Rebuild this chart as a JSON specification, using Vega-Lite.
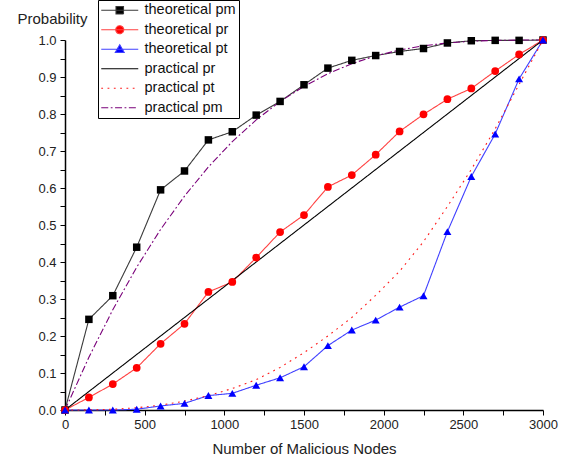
{
  "$schema": "https://vega.github.io/schema/vega-lite/v6.json",
  "width": 478,
  "height": 370,
  "autosize": {"type": "none"},
  "padding": {"left": 65, "top": 40, "right": 31, "bottom": 55},
  "config": {
    "view": {"stroke": null},
    "font": "Liberation Sans",
    "axis": {
      "grid": false,
      "domainColor": "black",
      "domainWidth": 1.5,
      "tickColor": "black",
      "tickWidth": 1,
      "labelColor": "#222",
      "labelFont": "Liberation Sans",
      "labelFontSize": 13,
      "titleFont": "Liberation Sans",
      "titleFontSize": 15,
      "titleFontWeight": "normal",
      "titleColor": "#222",
      "labelOverlap": false,
      "labelFlush": false
    }
  },
  "datasets": {
    "d": [
      {"series": "theoretical pm", "x": 0, "y": 0},
      {"series": "theoretical pm", "x": 150, "y": 0.245},
      {"series": "theoretical pm", "x": 300, "y": 0.309},
      {"series": "theoretical pm", "x": 450, "y": 0.44},
      {"series": "theoretical pm", "x": 600, "y": 0.595},
      {"series": "theoretical pm", "x": 750, "y": 0.646},
      {"series": "theoretical pm", "x": 900, "y": 0.73},
      {"series": "theoretical pm", "x": 1050, "y": 0.752},
      {"series": "theoretical pm", "x": 1200, "y": 0.797},
      {"series": "theoretical pm", "x": 1350, "y": 0.834},
      {"series": "theoretical pm", "x": 1500, "y": 0.879},
      {"series": "theoretical pm", "x": 1650, "y": 0.924},
      {"series": "theoretical pm", "x": 1800, "y": 0.945},
      {"series": "theoretical pm", "x": 1950, "y": 0.958},
      {"series": "theoretical pm", "x": 2100, "y": 0.969},
      {"series": "theoretical pm", "x": 2250, "y": 0.977},
      {"series": "theoretical pm", "x": 2400, "y": 0.992},
      {"series": "theoretical pm", "x": 2550, "y": 0.998},
      {"series": "theoretical pm", "x": 2700, "y": 0.999},
      {"series": "theoretical pm", "x": 2850, "y": 0.999},
      {"series": "theoretical pm", "x": 3000, "y": 1},
      {"series": "theoretical pr", "x": 0, "y": 0},
      {"series": "theoretical pr", "x": 150, "y": 0.034},
      {"series": "theoretical pr", "x": 300, "y": 0.07},
      {"series": "theoretical pr", "x": 450, "y": 0.114},
      {"series": "theoretical pr", "x": 600, "y": 0.179},
      {"series": "theoretical pr", "x": 750, "y": 0.233},
      {"series": "theoretical pr", "x": 900, "y": 0.319},
      {"series": "theoretical pr", "x": 1050, "y": 0.346},
      {"series": "theoretical pr", "x": 1200, "y": 0.412},
      {"series": "theoretical pr", "x": 1350, "y": 0.481},
      {"series": "theoretical pr", "x": 1500, "y": 0.527},
      {"series": "theoretical pr", "x": 1650, "y": 0.603},
      {"series": "theoretical pr", "x": 1800, "y": 0.635},
      {"series": "theoretical pr", "x": 1950, "y": 0.69},
      {"series": "theoretical pr", "x": 2100, "y": 0.753},
      {"series": "theoretical pr", "x": 2250, "y": 0.799},
      {"series": "theoretical pr", "x": 2400, "y": 0.84},
      {"series": "theoretical pr", "x": 2550, "y": 0.869},
      {"series": "theoretical pr", "x": 2700, "y": 0.916},
      {"series": "theoretical pr", "x": 2850, "y": 0.961},
      {"series": "theoretical pr", "x": 3000, "y": 1},
      {"series": "theoretical pt", "x": 0, "y": 0},
      {"series": "theoretical pt", "x": 150, "y": 0},
      {"series": "theoretical pt", "x": 300, "y": 0},
      {"series": "theoretical pt", "x": 450, "y": 0.002},
      {"series": "theoretical pt", "x": 600, "y": 0.011},
      {"series": "theoretical pt", "x": 750, "y": 0.018},
      {"series": "theoretical pt", "x": 900, "y": 0.039},
      {"series": "theoretical pt", "x": 1050, "y": 0.045},
      {"series": "theoretical pt", "x": 1200, "y": 0.067},
      {"series": "theoretical pt", "x": 1350, "y": 0.087},
      {"series": "theoretical pt", "x": 1500, "y": 0.117},
      {"series": "theoretical pt", "x": 1650, "y": 0.174},
      {"series": "theoretical pt", "x": 1800, "y": 0.216},
      {"series": "theoretical pt", "x": 1950, "y": 0.243},
      {"series": "theoretical pt", "x": 2100, "y": 0.278},
      {"series": "theoretical pt", "x": 2250, "y": 0.309},
      {"series": "theoretical pt", "x": 2400, "y": 0.482},
      {"series": "theoretical pt", "x": 2550, "y": 0.631},
      {"series": "theoretical pt", "x": 2700, "y": 0.746},
      {"series": "theoretical pt", "x": 2850, "y": 0.895},
      {"series": "theoretical pt", "x": 3000, "y": 1},
      {"series": "practical pr", "x": 0, "y": 0},
      {"series": "practical pr", "x": 3000, "y": 1},
      {"series": "practical pt", "x": 0, "y": 0},
      {"series": "practical pt", "x": 150, "y": 0.0003},
      {"series": "practical pt", "x": 300, "y": 0.002},
      {"series": "practical pt", "x": 450, "y": 0.006},
      {"series": "practical pt", "x": 600, "y": 0.013},
      {"series": "practical pt", "x": 750, "y": 0.024},
      {"series": "practical pt", "x": 900, "y": 0.039},
      {"series": "practical pt", "x": 1050, "y": 0.058},
      {"series": "practical pt", "x": 1200, "y": 0.082},
      {"series": "practical pt", "x": 1350, "y": 0.115},
      {"series": "practical pt", "x": 1500, "y": 0.155},
      {"series": "practical pt", "x": 1650, "y": 0.2},
      {"series": "practical pt", "x": 1800, "y": 0.25},
      {"series": "practical pt", "x": 1950, "y": 0.31},
      {"series": "practical pt", "x": 2100, "y": 0.375},
      {"series": "practical pt", "x": 2250, "y": 0.455},
      {"series": "practical pt", "x": 2400, "y": 0.55},
      {"series": "practical pt", "x": 2550, "y": 0.65},
      {"series": "practical pt", "x": 2700, "y": 0.76},
      {"series": "practical pt", "x": 2850, "y": 0.88},
      {"series": "practical pt", "x": 3000, "y": 1},
      {"series": "practical pm", "x": 0, "y": 0},
      {"series": "practical pm", "x": 150, "y": 0.1426},
      {"series": "practical pm", "x": 300, "y": 0.271},
      {"series": "practical pm", "x": 450, "y": 0.3859},
      {"series": "practical pm", "x": 600, "y": 0.488},
      {"series": "practical pm", "x": 750, "y": 0.5781},
      {"series": "practical pm", "x": 900, "y": 0.657},
      {"series": "practical pm", "x": 1050, "y": 0.7254},
      {"series": "practical pm", "x": 1200, "y": 0.784},
      {"series": "practical pm", "x": 1350, "y": 0.8336},
      {"series": "practical pm", "x": 1500, "y": 0.875},
      {"series": "practical pm", "x": 1650, "y": 0.9089},
      {"series": "practical pm", "x": 1800, "y": 0.936},
      {"series": "practical pm", "x": 1950, "y": 0.9571},
      {"series": "practical pm", "x": 2100, "y": 0.973},
      {"series": "practical pm", "x": 2250, "y": 0.9844},
      {"series": "practical pm", "x": 2400, "y": 0.992},
      {"series": "practical pm", "x": 2550, "y": 0.9966},
      {"series": "practical pm", "x": 2700, "y": 0.999},
      {"series": "practical pm", "x": 2850, "y": 0.9999},
      {"series": "practical pm", "x": 3000, "y": 1}
    ]
  },
  "data": {"name": "d"},
  "encoding": {
    "x": {
      "field": "x",
      "type": "quantitative",
      "scale": {"domain": [0, 3000], "nice": false, "zero": false},
      "axis": {
        "title": "Number of Malicious Nodes",
        "values": [0, 250, 500, 750, 1000, 1250, 1500, 1750, 2000, 2250, 2500, 2750, 3000],
        "format": "d",
        "labelExpr": "datum.value % 500 === 0 ? datum.label : ''",
        "tickSize": 5,
        "labelPadding": 3,
        "titlePadding": 10,
        "encode": {"ticks": {"update": {"y2": {"signal": "datum.value % 500 === 0 ? 5 : 3"}}}}
      }
    },
    "y": {
      "field": "y",
      "type": "quantitative",
      "scale": {"domain": [0, 1], "nice": false},
      "axis": {
        "title": "Probability",
        "titleAngle": 0,
        "titleX": -13,
        "titleY": -22,
        "titleAlign": "center",
        "titleBaseline": "middle",
        "values": [0, 0.05, 0.1, 0.15, 0.2, 0.25, 0.3, 0.35, 0.4, 0.45, 0.5, 0.55, 0.6, 0.65, 0.7, 0.75, 0.8, 0.85, 0.9, 0.95, 1],
        "format": ".1f",
        "labelExpr": "abs(datum.value * 10 - round(datum.value * 10)) < 0.000001 ? datum.label : ''",
        "tickSize": 5,
        "labelPadding": 4,
        "encode": {"ticks": {"update": {"x2": {"signal": "abs(datum.value * 10 - round(datum.value * 10)) < 0.000001 ? -5 : -3"}}}}
      }
    }
  },
  "layer": [
    {
      "mark": {"type": "line"},
      "encoding": {
        "color": {
          "field": "series",
          "type": "nominal",
          "scale": {
            "domain": ["theoretical pm", "theoretical pr", "theoretical pt", "practical pr", "practical pt", "practical pm"],
            "range": ["#3a3a3a", "#ff4040", "#4040ff", "#000000", "#ff1a1a", "#7a007a"]
          },
          "legend": {
            "orient": "none",
            "legendX": 33,
            "legendY": -40,
            "title": null,
            "strokeColor": "black",
            "fillColor": "white",
            "padding": 3,
            "rowPadding": 4.5,
            "symbolSize": 100,
            "symbolStrokeWidth": 1.3,
            "symbolOffset": 11.5,
            "labelOffset": 17.5,
            "labelFont": "Liberation Sans",
            "labelFontSize": 14.5,
            "labelColor": "#111",
            "labelLimit": 300,
            "encode": {
              "symbols": {
                "update": {
                  "shape": {"signal": "datum.value === 'theoretical pm' ? 'M-3.7,0H3.7M-0.75,-0.75H0.75V0.75H-0.75Z' : datum.value === 'theoretical pr' ? 'M-3.7,0H3.7M-0.8,0A0.8,0.8 0 1,0 0.8,0A0.8,0.8 0 1,0 -0.8,0Z' : datum.value === 'theoretical pt' ? 'M-3.7,0H3.7M0,-0.9L0.9,0.65H-0.9Z' : 'M-3.7,0H3.7'"},
                  "fill": {"signal": "datum.value === 'theoretical pm' ? 'black' : datum.value === 'theoretical pr' ? 'red' : datum.value === 'theoretical pt' ? 'blue' : 'transparent'"},
                  "stroke": {"signal": "datum.value === 'theoretical pm' ? '#555555' : datum.value === 'theoretical pr' ? '#ff5050' : datum.value === 'theoretical pt' ? '#5050ff' : datum.value === 'practical pr' ? 'black' : datum.value === 'practical pt' ? '#ff2020' : '#800080'"},
                  "strokeDash": {"signal": "datum.value === 'practical pt' ? [1.5, 4] : datum.value === 'practical pm' ? [7, 2.5, 1.5, 2.5] : [1, 0]"},
                  "size": {"value": 100},
                  "opacity": {"value": 1}
                }
              }
            }
          }
        },
        "strokeDash": {
          "field": "series",
          "type": "nominal",
          "scale": {
            "domain": ["theoretical pm", "theoretical pr", "theoretical pt", "practical pr", "practical pt", "practical pm"],
            "range": [[1, 0], [1, 0], [1, 0], [1, 0], [1.8, 4.5], [7, 2.5, 1.8, 2.5]]
          },
          "legend": null
        },
        "strokeWidth": {
          "field": "series",
          "type": "ordinal",
          "scale": {
            "domain": ["theoretical pm", "theoretical pr", "theoretical pt", "practical pr", "practical pt", "practical pm"],
            "range": [1.1, 1.1, 1.1, 1.8, 2, 1.6]
          },
          "legend": null
        }
      }
    },
    {
      "transform": [{"filter": "indexof(datum.series, 'theoretical') === 0"}],
      "mark": {"type": "point", "filled": true, "opacity": 1, "strokeWidth": 0},
      "encoding": {
        "shape": {
          "field": "series",
          "type": "nominal",
          "scale": {"domain": ["theoretical pm", "theoretical pr", "theoretical pt"], "range": ["square", "circle", "triangle-up"]},
          "legend": null
        },
        "fill": {
          "field": "series",
          "type": "nominal",
          "scale": {"domain": ["theoretical pm", "theoretical pr", "theoretical pt"], "range": ["black", "red", "blue"]},
          "legend": null
        },
        "size": {
          "field": "series",
          "type": "ordinal",
          "scale": {"domain": ["theoretical pm", "theoretical pr", "theoretical pt"], "range": [56, 64, 80]},
          "legend": null
        }
      }
    }
  ]
}
